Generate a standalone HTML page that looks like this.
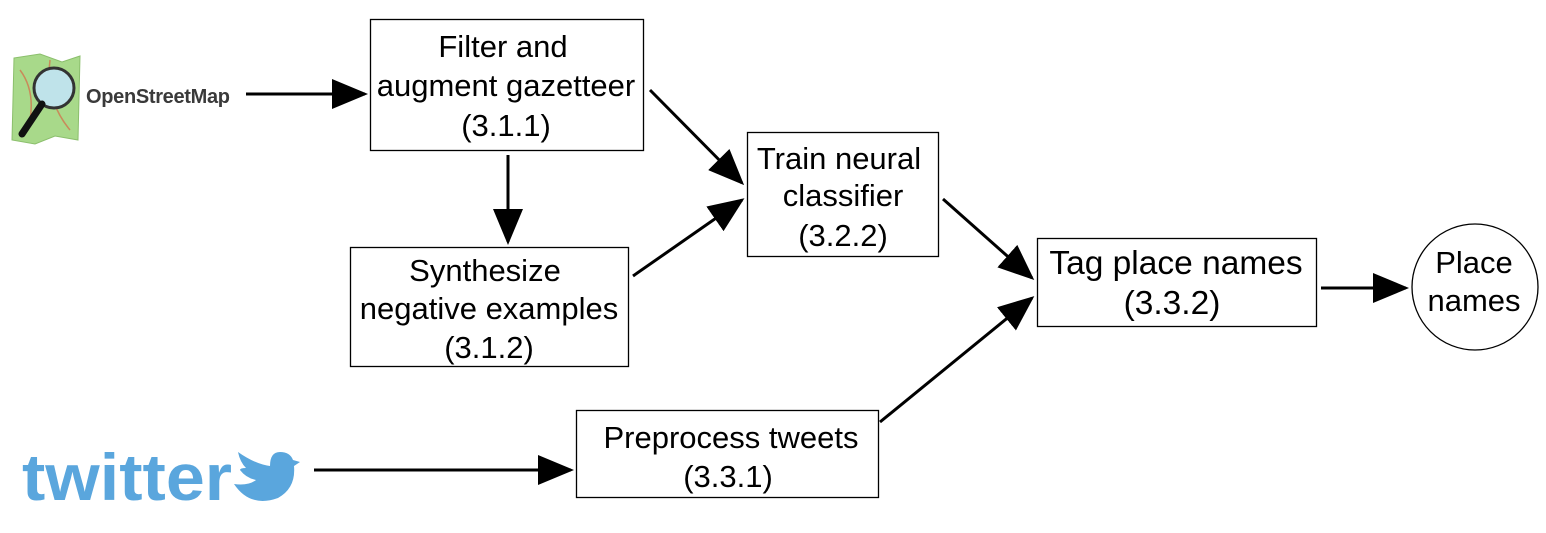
<!DOCTYPE html>
<html><head><style>
html,body{margin:0;padding:0;background:#fff;}
svg text{font-family:"Liberation Sans",sans-serif;fill:#000;}
</style></head><body>
<svg width="1546" height="528" viewBox="0 0 1546 528" xmlns="http://www.w3.org/2000/svg">
<defs>
<marker id="a" markerWidth="12" markerHeight="10" refX="11" refY="5" orient="auto" markerUnits="strokeWidth">
<path d="M0,0 L12,5 L0,10 z" fill="#000"/>
</marker>
</defs>
<!-- OSM logo -->
<path d="M14,58 L40,54 L62,62 L80,56 L78,140 L55,136 L35,144 L12,140 z" fill="#a8d98a" stroke="#8bbf6c" stroke-width="1"/>
<path d="M20,70 Q35,90 30,120 M50,60 Q45,100 70,130" stroke="#c98a5a" stroke-width="1.5" fill="none"/>
<circle cx="54" cy="88" r="20" fill="#bfe3ea" stroke="#333" stroke-width="3"/>
<line x1="42" y1="104" x2="22" y2="134" stroke="#111" stroke-width="7" stroke-linecap="round"/>
<text x="86" y="103" font-size="20" font-weight="bold" style="fill:#3a3a3a" textLength="144">OpenStreetMap</text>
<!-- twitter logo -->
<text x="22" y="500" font-size="66" font-weight="bold" style="fill:#5aa6dd" textLength="210" lengthAdjust="spacingAndGlyphs">twitter</text>
<path d="M234,484 Q250,508 278,498 Q296,488 294,466 L300,462 L293,460 Q290,452 280,452 Q270,452 270,466 Q255,464 238,452 Q240,462 246,468 Q240,468 240,470 Q246,478 256,480 Q248,486 234,484 z" fill="#5aa6dd"/>
<!-- boxes -->
<g fill="none" stroke="#000" stroke-width="1.3">
<rect x="370.5" y="19.5" width="273" height="131"/>
<rect x="350.5" y="247.5" width="278" height="119"/>
<rect x="747.5" y="132.5" width="191" height="124"/>
<rect x="1037.5" y="238.5" width="279" height="88"/>
<rect x="576.5" y="410.5" width="302" height="87"/>
<circle cx="1475" cy="287" r="63"/>
</g>
<g font-size="31" text-anchor="middle">
<text x="503" y="57">Filter and</text>
<text x="506" y="96">augment gazetteer</text>
<text x="506" y="136">(3.1.1)</text>
<text x="485" y="281">Synthesize</text>
<text x="489" y="319">negative examples</text>
<text x="489" y="358">(3.1.2)</text>
<text x="839" y="169">Train neural</text>
<text x="843" y="206">classifier</text>
<text x="843" y="246">(3.2.2)</text>
<text x="1176" y="274" font-size="33.5">Tag place names</text>
<text x="1172" y="314" font-size="33.5">(3.3.2)</text>
<text x="731" y="448">Preprocess tweets</text>
<text x="728" y="487">(3.3.1)</text>
<text x="1474" y="273">Place</text>
<text x="1474" y="311">names</text>
</g>
<g stroke="#000" stroke-width="3" marker-end="url(#a)">
<line x1="246" y1="94" x2="365" y2="94"/>
<line x1="508" y1="155" x2="508" y2="242"/>
<line x1="650" y1="90" x2="742" y2="183"/>
<line x1="633" y1="276" x2="742" y2="200"/>
<line x1="943" y1="199" x2="1032" y2="278"/>
<line x1="880" y1="422" x2="1032" y2="298"/>
<line x1="1321" y1="288" x2="1406" y2="288"/>
<line x1="314" y1="470" x2="571" y2="470"/>
</g>
</svg>
</body></html>
